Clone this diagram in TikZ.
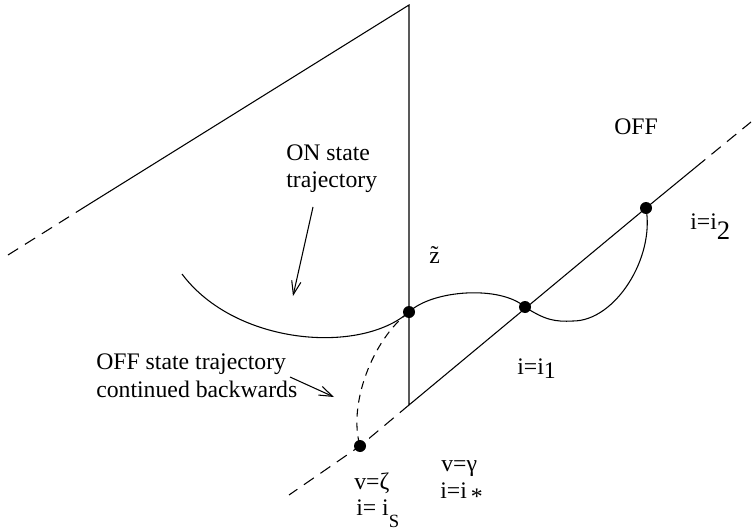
\documentclass[tikz,border=0pt]{standalone}
\usepackage{fontspec}
\setmainfont{Liberation Serif}
\usetikzlibrary{arrows.meta}
\begin{document}
\begin{tikzpicture}[x=0.75pt,y=-0.75pt,
  ln/.style={line width=0.8pt},
  dsh/.style={line width=0.8pt,dash pattern=on 9pt off 6pt},
  dshc/.style={line width=0.8pt,dash pattern=on 6pt off 4.5pt},
  dot/.style={circle,fill=black,inner sep=0pt,minimum size=9pt},
  lbl/.style={font=\fontsize{17.8}{20.5}\selectfont,inner sep=0pt,anchor=base west},
  arr/.style={line width=0.8pt,-{Straight Barb[length=10pt,width=7pt]}}]
\useasboundingbox (0,0) rectangle (753,531);
% frame points
\coordinate (top) at (409,5);
\coordinate (vb) at (409,405);
\coordinate (ls) at (83,208);
\coordinate (le) at (8,255);
\coordinate (rs) at (696,167);
\coordinate (re) at (751,122);
\coordinate (be) at (289,495);
\coordinate (onstart) at (182,274);
\coordinate (imin) at (573,321);
% dots
\node[dot] (zt) at (409,312) {};
\node[dot] (i1) at (525,307) {};
\node[dot] (i2) at (646,208) {};
\node[dot] (is) at (360,446) {};
% frame lines
\draw[dsh] (le) -- (ls);
\draw[ln] (ls) -- (top) -- (vb) -- (i2.center) -- (rs);
\draw[dsh] (rs) -- (re);
\draw[dsh] (vb) -- (is.center) -- (be);
% trajectories
\draw[ln] (onstart) .. controls (235,345) and (360,355) .. (zt.center)
  .. controls (432,290) and (500,285) .. (i1.center)
  .. controls (545,320) and (555,322) .. (imin)
  .. controls (615,321) and (655,258) .. (i2.center);
\draw[dshc] (zt.center) .. controls (372,340) and (348,405) .. (is.center);
% labels
\node[lbl,align=left] (onlbl) at (286,188) {ON state\\trajectory};
\node[lbl,align=left] (offlbl) at (96,397) {OFF state trajectory\\continued backwards};
\node[lbl] (off) at (614,135) {OFF};
\node[lbl] (zl) at (429,263) {\~{z}};
\node[lbl] (i2l) at (690,229) {i=i\raisebox{-8pt}{\fontsize{20}{20}\selectfont 2}};
\node[lbl] (i1l) at (517,374) {i=i\raisebox{-3pt}{1}};
\node[lbl] (vz) at (354,489) {v=ζ};
\node[lbl] (isl) at (356,515) {i= i\raisebox{-9pt}{\fontsize{14}{14}\selectfont S}};
\node[lbl] (vg) at (441,471) {v=γ};
\node[lbl] (istar) at (440,498) {i=i\,\raisebox{-5pt}{*}};
% arrows
\coordinate (ona) at (313,207);
\coordinate (onb) at (293,296);
\coordinate (offa) at (290,377);
\coordinate (offb) at (334,397);
\draw[arr] (ona) -- (onb);
\draw[arr] (offa) -- (offb);
\end{tikzpicture}
\end{document}
